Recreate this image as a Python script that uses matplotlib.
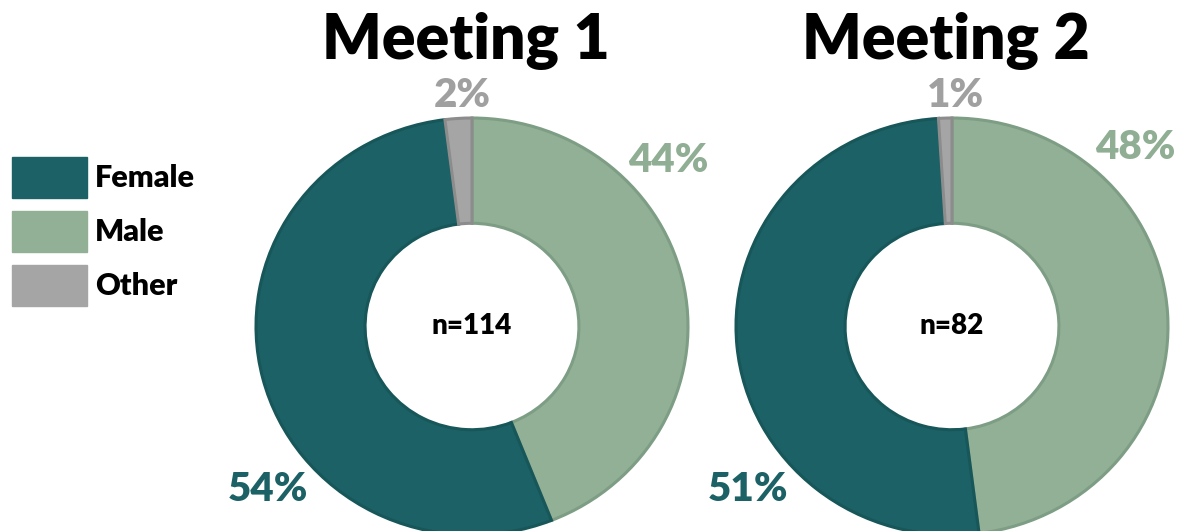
import numpy as np
import matplotlib.pyplot as plt

plt.rcParams['font.family'] = ['Lato', 'DejaVu Sans']

# gender split per meeting, in percent
genders = ["Female", "Male", "Other"]
meetings = ["Meeting 1", "Meeting 2"]
female = [54, 51]
male = [44, 48]
other = [2, 1]
counts = [114, 82]

fill = {"Female": "#1c6165", "Male": "#92b095", "Other": "#a5a5a5"}
edge = {"Female": "#175659", "Male": "#7d9d84", "Other": "#8c8c8c"}
label_col = {"Female": "#1c6165", "Male": "#8fae93", "Other": "#a0a0a0"}

W, H = 1181, 531
fig = plt.figure(figsize=(W / 100, H / 100), dpi=100)
# overlay in pixel units for titles, labels and legend
ax = fig.add_axes([0, 0, 1, 1])
ax.set_xlim(0, W)
ax.set_ylim(0, H)
ax.axis("off")

centers = [(472, H - 326.5), (952, H - 326.5)]
rx, ry = 216, 208.5
# label offsets from the donut centre (pixels)
offsets = [
    {"Male": (196, 166), "Female": (-204, -163), "Other": (-10, 231)},
    {"Male": (183, 179), "Female": (-204, -163), "Other": (3, 231)},
]

for i, name in enumerate(meetings):
    cx, cy = centers[i]
    pax = fig.add_axes([(cx - rx) / W, (cy - ry) / H, 2 * rx / W, 2 * ry / H])
    order = ["Male", "Female", "Other"]
    vals = {"Female": female[i], "Male": male[i], "Other": other[i]}
    wedges, _ = pax.pie([vals[g] for g in order], radius=1,
                        startangle=90, counterclock=False,
                        colors=[fill[g] for g in order],
                        wedgeprops=dict(width=0.505, linewidth=2.2))
    for w, g in zip(wedges, order):
        w.set_edgecolor(edge[g])
        w.set_clip_on(False)
    pax.set_aspect("auto")
    pax.set_xlim(-1, 1)
    pax.set_ylim(-1, 1)
    pax.axis("off")

    for g in order:
        dx, dy = offsets[i][g]
        ax.text(cx + dx, cy + dy, f"{vals[g]}%", color=label_col[g],
                fontsize=29, fontweight="heavy", ha="center", va="center")
    fig.text(cx / W, cy / H, f"n={counts[i]}", fontsize=20, fontweight="heavy",
             ha="center", va="center")
    ax.text(cx - 6, H - 41, name, fontsize=45, fontweight="heavy",
            ha="center", va="center")

# legend drawn as plain boxes
for k, g in enumerate(genders):
    top = 157 + k * 54
    ax.add_patch(plt.Rectangle((12, H - top - 41), 75, 41, color=fill[g]))
    ax.text(95, H - top - 21, g, fontsize=22, fontweight="heavy",
            ha="left", va="center")

fig.savefig("out.png", dpi=100)
